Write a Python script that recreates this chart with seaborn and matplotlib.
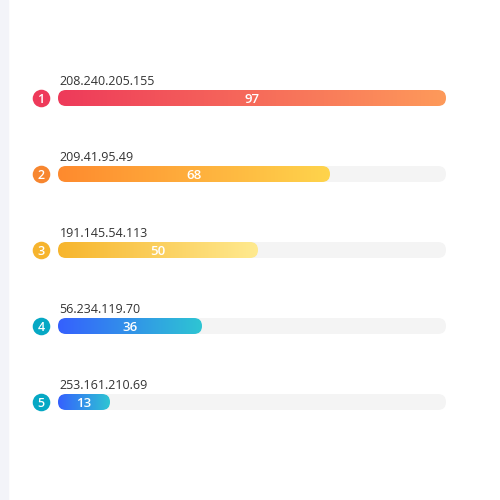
import matplotlib.pyplot as plt
import seaborn as sns
import numpy as np
from matplotlib.patches import FancyBboxPatch, Rectangle
from matplotlib.colors import LinearSegmentedColormap

ips = ['208.240.205.155', '209.41.95.49', '191.145.54.113',
       '56.234.119.70', '253.161.210.69']
values = [97, 68, 50, 36, 13]
ranks = ['1', '2', '3', '4', '5']
rank_colors = ['#ee3a5a', '#f7862f', '#f6b42e', '#06a8c4', '#06a8c4']
bar_gradients = [('#ee3a5a', '#fe9a5a'),
                 ('#fe8a2e', '#ffd44c'),
                 ('#f7b52c', '#ffea90'),
                 ('#3560fe', '#2ec5d3'),
                 ('#3560fe', '#2ec5d3')]
track_color = '#f4f4f4'

sns.set_style('white')
plt.rcParams['font.family'] = ['Open Sans', 'DejaVu Sans']

fig = plt.figure(figsize=(5, 5), dpi=100)
fig.patches.append(Rectangle((0, 0), 8 / 500, 1, transform=fig.transFigure,
                             color='#f3f4f9', zorder=0))
ax = fig.add_axes([58 / 500, 0, 388 / 500, 1])
vmax = max(values)

# seaborn lays out the categorical bars; they are restyled as rounded gradients
sns.barplot(x=values, y=ips, orient='h', width=16 / 76, ax=ax,
            color='white', saturation=1)
bars = list(ax.patches)

px_per_x = 388 / vmax
px_per_y = 76
aspect = px_per_x / px_per_y
radius = 8 / px_per_x

for i, bar in enumerate(bars):
    x0, y0 = bar.get_x(), bar.get_y()
    w, h = bar.get_width(), bar.get_height()
    bar.remove()
    track = FancyBboxPatch((0, y0), vmax, h,
                           boxstyle=f'round,pad=0,rounding_size={radius}',
                           mutation_aspect=aspect, fc=track_color, ec='none',
                           zorder=1)
    ax.add_patch(track)
    shape = FancyBboxPatch((x0, y0), w, h,
                           boxstyle=f'round,pad=0,rounding_size={radius}',
                           mutation_aspect=aspect, fc='none', ec='none',
                           zorder=2)
    ax.add_patch(shape)
    cmap = LinearSegmentedColormap.from_list(f'g{i}', bar_gradients[i])
    grad = np.linspace(0, 1, 256).reshape(1, -1)
    img = ax.imshow(grad, cmap=cmap, aspect='auto', extent=(x0, x0 + w, y0 + h, y0),
                    zorder=2, interpolation='bilinear')
    img.set_clip_path(shape)
    yc = y0 + h / 2
    ax.text(x0 + w / 2, yc, str(values[i]), color='white', fontsize=9.5,
            fontweight='semibold', ha='center', va='center_baseline', zorder=3)
    ax.text(0.4, y0 - 0.03, ips[i], color='#333333', fontsize=9,
            ha='left', va='bottom', zorder=3)
    ax.scatter([-17 / px_per_x], [yc], s=160, color=rank_colors[i],
               clip_on=False, zorder=3, linewidths=0)
    ax.text(-17 / px_per_x, yc, ranks[i], color='white', fontsize=9,
            fontweight='semibold', ha='center', va='center_baseline', zorder=4)

ax.set_xlim(0, vmax)
ax.set_ylim((500 - 98) / 76, -98 / 76)
ax.axis('off')

plt.savefig('out.png', dpi=100)
